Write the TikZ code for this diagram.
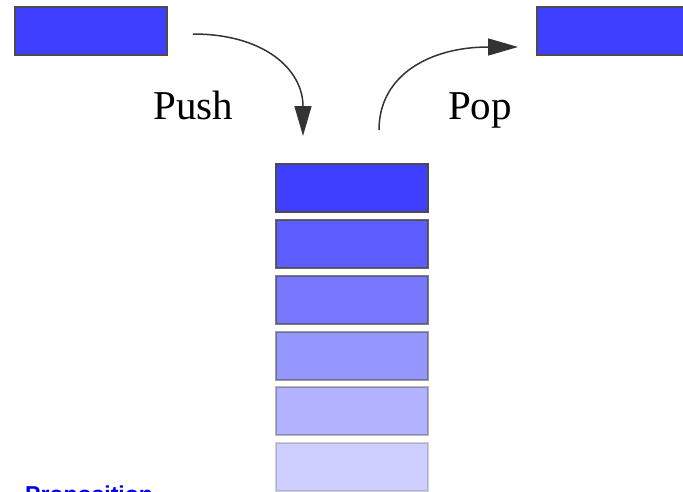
\documentclass[tikz,border=0pt]{standalone}
\usepackage{fontspec}
\setmainfont{Liberation Serif}
\newfontfamily\linkfont{Liberation Sans}
\usetikzlibrary{arrows.meta}
\definecolor{itemblue}{HTML}{3F3FFF}
\definecolor{linkblue}{HTML}{0000EE}
\tikzset{
  itembox/.style={draw=black!70, line width=1.4pt, fill=itemblue,
    minimum width=152pt, minimum height=48pt, inner sep=0pt, outer sep=0pt},
  stackbox/.style={itembox, draw opacity=#1, fill opacity=#1},
  movearrow/.style={draw=black!80, line width=1.5pt,
    -{Triangle[length=30pt,width=17pt]}},
  oplabel/.style={font=\fontsize{41}{41}\selectfont, anchor=base, inner sep=0pt}
}
\begin{document}
\begin{tikzpicture}[x=1pt,y=-1pt]
  \useasboundingbox (0,0) rectangle (683,491);
  \begin{scope}
    \clip (0,0) rectangle (683,491);
    % element waiting to be pushed and element just popped
    \node[itembox] (incoming) at (91,31) {};
    \node[itembox] (outgoing) at (613,31) {};
    % the stack, top element first
    \node[stackbox=1.0]  (s1) at (352,188) {};
    \node[stackbox=0.85] (s2) at (352,244) {};
    \node[stackbox=0.7]  (s3) at (352,300) {};
    \node[stackbox=0.55] (s4) at (352,356) {};
    \node[stackbox=0.4]  (s5) at (352,411) {};
    \node[stackbox=0.25, anchor=north] (s6) at (352,443) {};
    % operation labels
    \node[oplabel] (pushlabel) at (193.5,119) {Push};
    \node[oplabel] (poplabel) at (480,119) {Pop};
    % caption below, cut off by the page edge
    \node[anchor=north west, inner sep=0pt, text=linkblue,
      font=\linkfont\bfseries\fontsize{23}{23}\selectfont] (caption) at (25,486) {Proposition};
  \end{scope}
  % arrows
  \coordinate (pushstart) at (193,34);
  \coordinate (pushend) at (303,136);
  \coordinate (popstart) at (379,130);
  \coordinate (popend) at (518,47);
  \draw[movearrow] (pushstart) .. controls (265,34) and (303,70) .. (pushend);
  \draw[movearrow] (popstart) .. controls (379,75) and (430,47) .. (popend);
\end{tikzpicture}
\end{document}
